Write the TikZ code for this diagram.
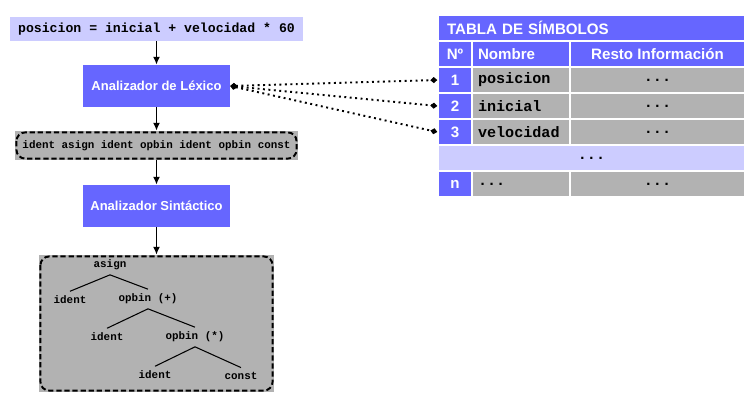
\documentclass[tikz,border=0pt]{standalone}
\usepackage{fontspec}
\setmainfont{Liberation Sans}
\setmonofont{Liberation Mono}
\usetikzlibrary{arrows.meta, positioning}
\definecolor{azul}{HTML}{6666FF}
\definecolor{lila}{HTML}{CCCCFF}
\definecolor{gris}{HTML}{B2B2B2}

\begin{document}
\begin{tikzpicture}[
    x=0.02cm, y=-0.02cm,
    fase/.style={fill=azul, text=white, font=\fontsize{7.4}{9}\selectfont\bfseries, minimum width=2.94cm, minimum height=0.84cm, inner sep=0pt},
    cadena/.style={fill=lila, font=\fontsize{7.5}{9}\selectfont\ttfamily\bfseries, minimum width=5.86cm, minimum height=0.48cm, inner sep=0pt},
    caja/.style={fill=gris, inner sep=0pt},
    borde/.style={draw, dash pattern=on 3pt off 1.6pt, line width=1.1pt, rounded corners=5pt},
    flecha/.style={-{Latex[length=4.5pt,width=4pt]}, line width=0.8pt},
    hoja/.style={font=\fontsize{6.2}{7}\selectfont\ttfamily\bfseries, inner sep=2.5pt},
    rama/.style={line width=0.6pt},
    celda/.style={draw=white, line width=0.8pt, inner sep=0pt, minimum height=0.52cm},
    num/.style={celda, fill=azul, text=white, font=\fontsize{8.6}{10}\selectfont\bfseries, minimum width=0.68cm},
    nombre/.style={celda, fill=gris, font=\fontsize{8.6}{10}\selectfont\ttfamily\bfseries, minimum width=1.96cm, text width=1.72cm, align=left},
    resto/.style={celda, fill=gris, font=\fontsize{8.6}{10}\selectfont\ttfamily\bfseries, minimum width=3.5cm},
    enlace/.style={{Diamond[length=4pt,width=3.5pt]}-{Diamond[length=4pt,width=3.5pt]}, dotted, line width=1.1pt}
]
    \fill[white] (0,0) rectangle (749,400);
    \useasboundingbox (0,0) rectangle (749,400);

    % Fases del compilador
    \node[cadena] (fuente) at (156.5,29) {posicion = inicial + velocidad * 60};
    \node[fase] (lex) at (156.5,86) {Analizador de Léxico};
    \node[caja, font=\fontsize{6.2}{7}\selectfont\ttfamily\bfseries, minimum width=5.66cm, minimum height=0.58cm] (tok) at (156.5,145.5) {ident asign ident opbin ident opbin const};
    \draw[borde] ([xshift=1pt,yshift=-1pt]tok.north west) rectangle ([xshift=-1pt,yshift=1pt]tok.south east);
    \node[fase] (sint) at (156.5,206) {Analizador Sintáctico};
    \node[caja, minimum width=4.7cm, minimum height=2.74cm] (arbol) at (156.5,323.5) {};
    \draw[borde] ([xshift=1pt,yshift=-1pt]arbol.north west) rectangle ([xshift=-1pt,yshift=1pt]arbol.south east);

    \draw[flecha] (fuente.south) -- (lex.north);
    \draw[flecha] (lex.south) -- (tok.north);
    \draw[flecha] (tok.south) -- (sint.north);
    \draw[flecha] (sint.south) -- (arbol.north);

    % Arbol sintactico
    \node[hoja] (asign) at (110,265) {asign};
    \node[hoja] (id1) at (70,300) {ident};
    \node[hoja] (op1) at (148,299) {opbin (+)};
    \node[hoja] (id2) at (107,337) {ident};
    \node[hoja] (op2) at (195,337) {opbin (*)};
    \node[hoja] (id3) at (155,375) {ident};
    \node[hoja] (cst) at (241,376) {const};
    \draw[rama] (asign.south) -- (id1.north);
    \draw[rama] (asign.south) -- (op1.north);
    \draw[rama] (op1.south) -- (id2.north);
    \draw[rama] (op1.south) -- (op2.north);
    \draw[rama] (op2.south) -- (id3.north);
    \draw[rama] (op2.south) -- (cst.north);

    % Tabla de simbolos
    \node[celda, fill=azul, text=white, font=\fontsize{8.6}{10}\selectfont\bfseries, minimum width=6.14cm, text width=5.78cm, align=left] (titulo) at (591.5,28) {TABLA DE SÍMBOLOS};
    \node[num] (cab1) at (455,54) {Nº};
    \node[celda, fill=azul, text=white, font=\fontsize{8.6}{10}\selectfont\bfseries, minimum width=1.96cm, text width=1.72cm, align=left] (cab2) at (521,54) {Nombre};
    \node[celda, fill=azul, text=white, font=\fontsize{8.6}{10}\selectfont\bfseries, minimum width=3.5cm] (cab3) at (657.5,54) {Resto Información};
    \foreach \i/\nom/\y in {1/posicion/80, 2/inicial/106, 3/velocidad/132} {
        \node[num] (n\i) at (455,\y) {\i};
        \node[nombre] (nom\i) at (521,\y) {\nom};
        \node[resto] (inf\i) at (657.5,\y) {...};
    }
    \node[celda, fill=lila, font=\fontsize{8.6}{10}\selectfont\ttfamily\bfseries, minimum width=6.14cm] (medio) at (591.5,158) {...};
    \node[num] (nn) at (455,184) {n};
    \node[nombre] (nomn) at (521,184) {...};
    \node[resto] (infn) at (657.5,184) {...};

    % Enlaces a la tabla
    \foreach \i in {1,2,3}
        \draw[enlace] (lex.east) -- (n\i.west);

\end{tikzpicture}
\end{document}
